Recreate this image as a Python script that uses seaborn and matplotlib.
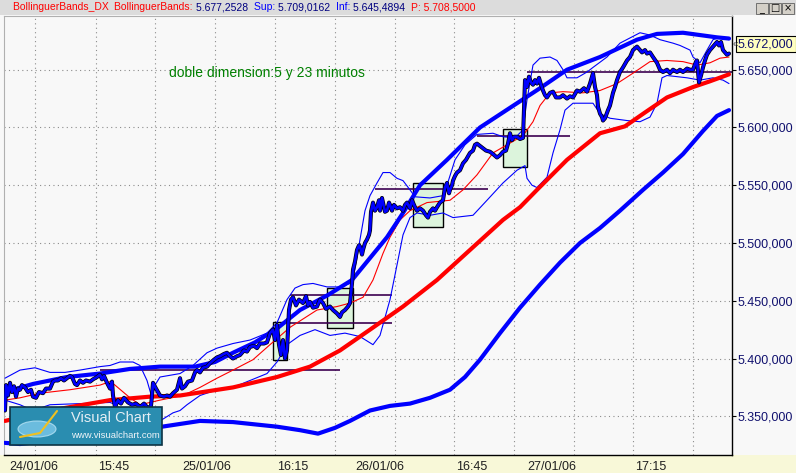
import numpy as np
import pandas as pd
import seaborn as sns
import matplotlib.pyplot as plt
from matplotlib.patches import Rectangle, Ellipse
from matplotlib.ticker import FuncFormatter
import matplotlib.transforms as mtransforms

# price in thousands of points: bar number and close
price_bar = [5, 6, 8, 10, 12, 14, 16, 18, 20, 22,
             25, 28, 31, 33, 36, 39, 43, 46, 50, 53,
             55, 58, 61, 64, 67, 70, 72, 75, 77, 80,
             83, 86, 90, 93, 97, 100, 102, 104, 107, 110,
             112, 113, 115, 118, 121, 124, 128, 132, 136, 140,
             144, 148, 151, 152, 153, 156, 160, 164, 167, 170,
             173, 177, 180, 182, 185, 188, 192, 195, 197, 200,
             203, 207, 210, 214, 217, 220, 224, 227, 230, 233,
             237, 240, 244, 247, 250, 254, 257, 260, 264, 267,
             270, 273, 275, 277, 279, 281, 283, 285, 287, 289,
             291, 293, 296, 299, 303, 306, 308, 310, 313, 317,
             320, 323, 326, 330, 333, 337, 340, 342, 345, 348,
             350, 352, 353, 355, 357, 359, 360, 362, 363, 365,
             367, 369, 370, 371, 372, 373, 375, 377, 379, 380,
             382, 383, 385, 387, 389, 390, 392, 394, 397, 400,
             403, 405, 407, 410, 412, 413, 415, 417, 420, 423,
             426, 428, 430, 433, 435, 437, 440, 443, 445, 447,
             449, 450, 452, 453, 455, 457, 460, 463, 466, 470,
             473, 475, 477, 480, 483, 486, 490, 493, 497, 500,
             503, 506, 508, 510, 512, 514, 517, 520, 523, 525,
             527, 529, 531, 533, 535, 537, 539, 541, 543, 545,
             547, 550, 553, 556, 560, 563, 567, 570, 573, 577,
             580, 584, 587, 590, 592, 593, 595, 597, 598, 600,
             602, 603, 605, 608, 610, 613, 615, 617, 620, 623,
             627, 630, 633, 637, 640, 642, 645, 647, 650, 653,
             657, 660, 663, 667, 670, 673, 677, 680, 683, 687,
             690, 693, 696, 697, 699, 701, 703, 705, 707, 710,
             713, 715, 717, 719, 721, 723, 725, 727, 729]
price = [5.355, 5.377, 5.368, 5.379, 5.371, 5.376, 5.367, 5.374, 5.373, 5.377,
         5.375, 5.371, 5.373, 5.367, 5.366, 5.371, 5.370, 5.374, 5.374, 5.380,
         5.381, 5.381, 5.383, 5.381, 5.383, 5.385, 5.384, 5.378, 5.377, 5.381,
         5.379, 5.381, 5.380, 5.382, 5.384, 5.386, 5.382, 5.385, 5.379, 5.374,
         5.380, 5.368, 5.358, 5.364, 5.361, 5.366, 5.362, 5.360, 5.361, 5.358,
         5.361, 5.357, 5.359, 5.368, 5.379, 5.374, 5.368, 5.367, 5.368, 5.367,
         5.370, 5.373, 5.383, 5.374, 5.376, 5.380, 5.381, 5.388, 5.390, 5.388,
         5.392, 5.393, 5.396, 5.399, 5.401, 5.402, 5.404, 5.405, 5.402, 5.400,
         5.402, 5.403, 5.407, 5.406, 5.410, 5.411, 5.409, 5.413, 5.413, 5.414,
         5.422, 5.425, 5.416, 5.429, 5.412, 5.403, 5.416, 5.400, 5.407, 5.442,
         5.451, 5.453, 5.446, 5.451, 5.448, 5.454, 5.446, 5.449, 5.444, 5.445,
         5.451, 5.448, 5.443, 5.445, 5.442, 5.439, 5.436, 5.440, 5.442, 5.445,
         5.448, 5.465, 5.477, 5.484, 5.494, 5.498, 5.497, 5.490, 5.494, 5.500,
         5.503, 5.507, 5.511, 5.527, 5.531, 5.535, 5.528, 5.531, 5.537, 5.528,
         5.539, 5.535, 5.527, 5.528, 5.535, 5.533, 5.528, 5.533, 5.530, 5.531,
         5.528, 5.533, 5.535, 5.530, 5.537, 5.535, 5.531, 5.528, 5.530, 5.528,
         5.524, 5.522, 5.527, 5.530, 5.528, 5.531, 5.535, 5.537, 5.548, 5.552,
         5.543, 5.546, 5.550, 5.554, 5.558, 5.561, 5.563, 5.569, 5.572, 5.578,
         5.580, 5.585, 5.586, 5.584, 5.582, 5.580, 5.579, 5.577, 5.574, 5.576,
         5.579, 5.580, 5.586, 5.595, 5.589, 5.592, 5.592, 5.590, 5.591, 5.641,
         5.635, 5.644, 5.639, 5.637, 5.641, 5.638, 5.643, 5.637, 5.632, 5.628,
         5.626, 5.630, 5.631, 5.626, 5.626, 5.628, 5.625, 5.627, 5.626, 5.632,
         5.631, 5.634, 5.631, 5.638, 5.644, 5.647, 5.635, 5.628, 5.618, 5.612,
         5.609, 5.606, 5.608, 5.615, 5.619, 5.630, 5.635, 5.641, 5.648, 5.652,
         5.658, 5.661, 5.667, 5.670, 5.667, 5.665, 5.667, 5.664, 5.665, 5.661,
         5.656, 5.650, 5.648, 5.650, 5.647, 5.650, 5.648, 5.650, 5.648, 5.651,
         5.650, 5.650, 5.657, 5.658, 5.639, 5.645, 5.652, 5.658, 5.663, 5.667,
         5.670, 5.672, 5.674, 5.671, 5.674, 5.667, 5.665, 5.663, 5.664]

# short bollinger (5 min): upper, middle, lower
up5_bar = [5, 20, 35, 50, 65, 80, 100, 110, 120, 133,
           140, 147, 152, 155, 160, 180, 193, 207, 217, 233,
           250, 267, 277, 287, 295, 303, 313, 327, 340, 350,
           355, 360, 365, 370, 377, 383, 390, 397, 403, 410,
           415, 430, 443, 447, 455, 465, 477, 493, 503, 515,
           523, 527, 533, 540, 550, 557, 563, 567, 577, 587,
           593, 607, 620, 640, 650, 660, 673, 680, 690, 693,
           700, 707, 713, 720, 729]
up5 = [5.383, 5.390, 5.392, 5.388, 5.388, 5.390, 5.393, 5.394, 5.397, 5.397,
       5.394, 5.381, 5.366, 5.377, 5.384, 5.387, 5.394, 5.405, 5.409, 5.413,
       5.416, 5.422, 5.431, 5.451, 5.461, 5.464, 5.465, 5.462, 5.462, 5.465,
       5.477, 5.503, 5.528, 5.541, 5.552, 5.561, 5.561, 5.556, 5.554, 5.546,
       5.540, 5.539, 5.541, 5.550, 5.572, 5.585, 5.594, 5.595, 5.592, 5.591,
       5.598, 5.624, 5.654, 5.660, 5.661, 5.658, 5.650, 5.643, 5.643, 5.648,
       5.652, 5.661, 5.673, 5.682, 5.680, 5.676, 5.673, 5.671, 5.667, 5.661,
       5.656, 5.667, 5.676, 5.678, 5.676]

mid5_bar = [5, 20, 40, 70, 100, 110, 115, 130, 140, 160,
            183, 200, 217, 233, 253, 270, 290, 317, 337, 350,
            363, 373, 383, 390, 400, 410, 427, 450, 463, 477,
            493, 507, 523, 533, 540, 550, 563, 583, 600, 617,
            633, 650, 667, 683, 697, 710, 720, 729]
mid5 = [5.364, 5.366, 5.370, 5.373, 5.377, 5.380, 5.377, 5.366, 5.360, 5.364,
        5.368, 5.375, 5.383, 5.390, 5.399, 5.412, 5.427, 5.442, 5.445, 5.448,
        5.453, 5.468, 5.491, 5.505, 5.520, 5.528, 5.535, 5.537, 5.546, 5.559,
        5.578, 5.585, 5.593, 5.605, 5.619, 5.630, 5.631, 5.630, 5.632, 5.638,
        5.647, 5.657, 5.658, 5.657, 5.654, 5.656, 5.660, 5.661]

lo5_bar = [5, 20, 33, 50, 80, 110, 113, 120, 130, 145,
           160, 173, 180, 187, 200, 217, 233, 250, 267, 277,
           287, 300, 315, 330, 345, 360, 373, 380, 390, 397,
           403, 410, 417, 430, 443, 453, 473, 487, 503, 517,
           525, 527, 532, 537, 547, 553, 560, 565, 573, 593,
           600, 610, 627, 640, 650, 657, 662, 667, 687, 700,
           713, 723, 729]
lo5 = [5.364, 5.360, 5.355, 5.360, 5.361, 5.362, 5.361, 5.357, 5.351, 5.345,
       5.346, 5.353, 5.355, 5.360, 5.368, 5.373, 5.375, 5.381, 5.387, 5.397,
       5.412, 5.420, 5.425, 5.420, 5.422, 5.419, 5.412, 5.420, 5.451, 5.481,
       5.507, 5.522, 5.526, 5.524, 5.526, 5.522, 5.524, 5.537, 5.552, 5.563,
       5.567, 5.556, 5.550, 5.548, 5.557, 5.578, 5.598, 5.615, 5.621, 5.621,
       5.612, 5.608, 5.606, 5.605, 5.609, 5.621, 5.643, 5.645, 5.643, 5.641,
       5.643, 5.641, 5.638]

# long bollinger (23 min): upper, middle, lower
up23_bar = [5, 33, 67, 100, 130, 160, 195, 215, 233, 255,
            277, 300, 328, 352, 370, 387, 403, 420, 447, 480,
            517, 540, 567, 600, 637, 657, 683, 717, 729]
up23 = [5.371, 5.378, 5.384, 5.387, 5.391, 5.393, 5.393, 5.397, 5.405, 5.414,
        5.426, 5.442, 5.455, 5.468, 5.487, 5.505, 5.526, 5.550, 5.572, 5.600,
        5.621, 5.634, 5.650, 5.661, 5.676, 5.681, 5.682, 5.678, 5.677]

mid23_bar = [5, 20, 50, 77, 110, 150, 180, 233, 277, 310,
             340, 370, 403, 437, 470, 503, 520, 537, 567, 600,
             625, 645, 667, 693, 710, 729]
mid23 = [5.346, 5.349, 5.355, 5.359, 5.364, 5.367, 5.368, 5.375, 5.384, 5.393,
         5.407, 5.425, 5.445, 5.468, 5.494, 5.520, 5.531, 5.546, 5.572, 5.595,
         5.601, 5.613, 5.626, 5.635, 5.640, 5.646]

lo23_bar = [5, 20, 60, 100, 140, 162, 200, 233, 277, 300,
            318, 335, 350, 370, 390, 410, 430, 450, 465, 480,
            500, 520, 540, 560, 580, 600, 620, 643, 663, 683,
            703, 717, 729]
lo23 = [5.327, 5.326, 5.330, 5.334, 5.338, 5.341, 5.346, 5.345, 5.341, 5.338,
        5.335, 5.340, 5.346, 5.355, 5.359, 5.361, 5.366, 5.373, 5.384, 5.399,
        5.422, 5.444, 5.464, 5.483, 5.500, 5.513, 5.528, 5.546, 5.561, 5.577,
        5.597, 5.610, 5.615]

# horizontal levels drawn on the chart
level_val = [5.390, 5.455, 5.431, 5.547, 5.593, 5.648]
level_from = [100, 290, 290, 375, 477, 527]
level_to = [340, 392, 392, 488, 570, 732]

# green boxes
box_from = [273, 327, 413, 503]
box_to = [287, 353, 443, 527]
box_lo = [5.399, 5.426, 5.514, 5.566]
box_hi = [5.432, 5.461, 5.552, 5.599]

y_ticks = [5.35, 5.40, 5.45, 5.50, 5.55, 5.60, 5.65]
grid_bars = [35, 96, 155, 215, 275, 335, 395, 454, 514, 574, 633, 693]
grid_labels = ['', '15:45', '', '', '16:15', '', '', '16:45', '', '', '17:15', '']
date_bars = [7, 180, 353, 525]
date_labels = ['24/01/06', '25/01/06', '26/01/06', '27/01/06']
last_price = 5.672

header = [("BollinguerBands_DX  ", "#ff0000"), ("BollinguerBands: ", "#ff0000"),
          ("5.677,2528  ", "#000080"), ("Sup: ", "#0000ff"), ("5.709,0162  ", "#000080"),
          ("Inf: ", "#0000ff"), ("5.645,4894  ", "#000080"), ("P: 5.708,5000", "#ff0000")]


def es_num(v, pos=None):
    # values are kept in thousands; show them as 5.650,000
    s = f"{v * 1000:,.3f}"
    return s.replace(",", "X").replace(".", ",").replace("X", ".")


sns.set_style("white")
plt.rcParams['font.family'] = ['Liberation Sans', 'DejaVu Sans']

W, H = 796, 473
fig = plt.figure(figsize=(W / 100, H / 100), dpi=100, facecolor='#f8f8f8')
ax = fig.add_axes([4 / W, 18 / H, 728 / W, 439 / H])
ax.set_facecolor('#f8f8f8')

# title bar and bottom band
fig.add_artist(Rectangle((0, 1 - 15 / H), 1, 15 / H, transform=fig.transFigure,
                         fc='#dcdcdc', ec='none', zorder=-5))
fig.add_artist(Rectangle((0, 0), 1, 18 / H, transform=fig.transFigure,
                         fc='#f8f8d8', ec='none', zorder=-5))

for x0, x1, lo, hi in zip(box_from, box_to, box_lo, box_hi):
    ax.add_patch(Rectangle((x0, lo), x1 - x0, hi - lo, fc='#dcf4dc', ec='black',
                           lw=1.0, zorder=1.5))

ax.hlines(level_val, level_from, level_to, color='#3c0050', lw=1.2, zorder=2)

sns.lineplot(x=up5_bar, y=up5, ax=ax, color='#0000ff', linewidth=0.8, zorder=3)
sns.lineplot(x=lo5_bar, y=lo5, ax=ax, color='#0000ff', linewidth=0.8, zorder=3)
sns.lineplot(x=mid5_bar, y=mid5, ax=ax, color='#ff0000', linewidth=0.8, zorder=3)
sns.lineplot(x=up23_bar, y=up23, ax=ax, color='#0000ff', linewidth=3.0, zorder=4)
sns.lineplot(x=lo23_bar, y=lo23, ax=ax, color='#0000ff', linewidth=3.0, zorder=4)
sns.lineplot(x=mid23_bar, y=mid23, ax=ax, color='#ff0000', linewidth=3.0, zorder=4)
sns.lineplot(x=price_bar, y=price, ax=ax, color='black', linewidth=2.9, zorder=5)
sns.lineplot(x=price_bar, y=price, ax=ax, color='#0000ff', linewidth=1.9, zorder=6)

ax.set_xlim(4, 732)
ax.set_ylim(5.3165, 5.6965)
ax.set_xlabel('')
ax.set_ylabel('')

ax.yaxis.tick_right()
ax.set_yticks(y_ticks)
ax.yaxis.set_major_formatter(FuncFormatter(es_num))
ax.tick_params(axis='y', direction='out', length=3, width=0.8, pad=1,
               labelsize=9, labelcolor='#10106e', color='black')

ax.set_xticks(grid_bars, grid_labels)
ax.set_xticks(date_bars, date_labels, minor=True)
ax.tick_params(axis='x', which='major', direction='out', length=3, width=0.8,
               pad=1.2, labelsize=9, labelcolor='#202020')
ax.tick_params(axis='x', which='minor', direction='out', length=6, width=0.8,
               pad=-1.8, labelsize=9, labelcolor='#202020')
shift = mtransforms.ScaledTranslation(2 / 100, 0, fig.dpi_scale_trans)
for lab in ax.get_xticklabels(which='both'):
    lab.set_ha('left')
    lab.set_transform(lab.get_transform() + shift)

ax.grid(True, which='major', color='#8c8c8c', linestyle=(0, (1, 3)), linewidth=0.8)
for side in ['right', 'bottom']:
    ax.spines[side].set_color('black')
    ax.spines[side].set_linewidth(1.0)
for side in ['left', 'top']:
    ax.spines[side].set_color('#b0b0b0')
    ax.spines[side].set_linewidth(0.8)

ax.text(169, 5.647, 'doble dimension:5 y 23 minutos', color='#008000',
        fontsize=10, va='center', ha='left', zorder=7)

# last price marker on the right axis
ax.annotate(es_num(last_price), xy=(1, last_price), xycoords=('axes fraction', 'data'),
            xytext=(6, 0), textcoords='offset pixels', va='center', ha='left',
            fontsize=9, color='#10106e', annotation_clip=False,
            bbox=dict(boxstyle='square,pad=0.15', fc='#ffffc0', ec='black', lw=0.8))
ax.annotate('\u00ab', xy=(1, last_price), xycoords=('axes fraction', 'data'),
            xytext=(1, 0), textcoords='offset pixels', va='center', ha='left',
            fontsize=7, color='#404040', annotation_clip=False)

# header text
fig.canvas.draw()
r = fig.canvas.get_renderer()
xpos = 13
for s, c in header:
    t = fig.text(xpos / W, 1 - 7.5 / H, s, color=c, fontsize=7.5, va='center', ha='left')
    xpos += t.get_window_extent(renderer=r).width

# window buttons
for i, g in enumerate(['_', '\u25a1', '\u00d7']):
    bx = 756 + i * 13
    fig.add_artist(Rectangle((bx / W, 1 - 14 / H), 12 / W, 11 / H, transform=fig.transFigure,
                             fc='#d4d0c8', ec='#606060', lw=0.6))
    fig.text((bx + 6) / W, 1 - 8.5 / H, g, ha='center', va='center', fontsize=7,
             color='black', family='DejaVu Sans')

# logo
fig.add_artist(Rectangle((10 / W, 1 - 445 / H), 152 / W, 38 / H, transform=fig.transFigure,
                         fc='#2a8db0', ec='#0c3444', lw=1.2, zorder=8))
fig.add_artist(Ellipse((37 / W, 1 - 429 / H), 38 / W, 16 / H, transform=fig.transFigure,
                       fc='#7cc8ea', ec='#b8e4f6', lw=0.8, alpha=0.8, zorder=9))
fig.add_artist(plt.Line2D([20 / W, 40 / W, 57 / W], [1 - 437 / H, 1 - 433 / H, 1 - 411 / H],
                          transform=fig.transFigure, color='#f0c020', lw=1.5, zorder=10))
fig.text(71 / W, 1 - 418 / H, 'Visual Chart', color='#e4eef4', fontsize=10.5,
         va='center', ha='left', zorder=10)
fig.text(71 / W, 1 - 435 / H, 'www.visualchart.com', color='#eef4f8', fontsize=6.8,
         va='center', ha='left', zorder=10)

fig.savefig('out.png', dpi=100, facecolor=fig.get_facecolor())
